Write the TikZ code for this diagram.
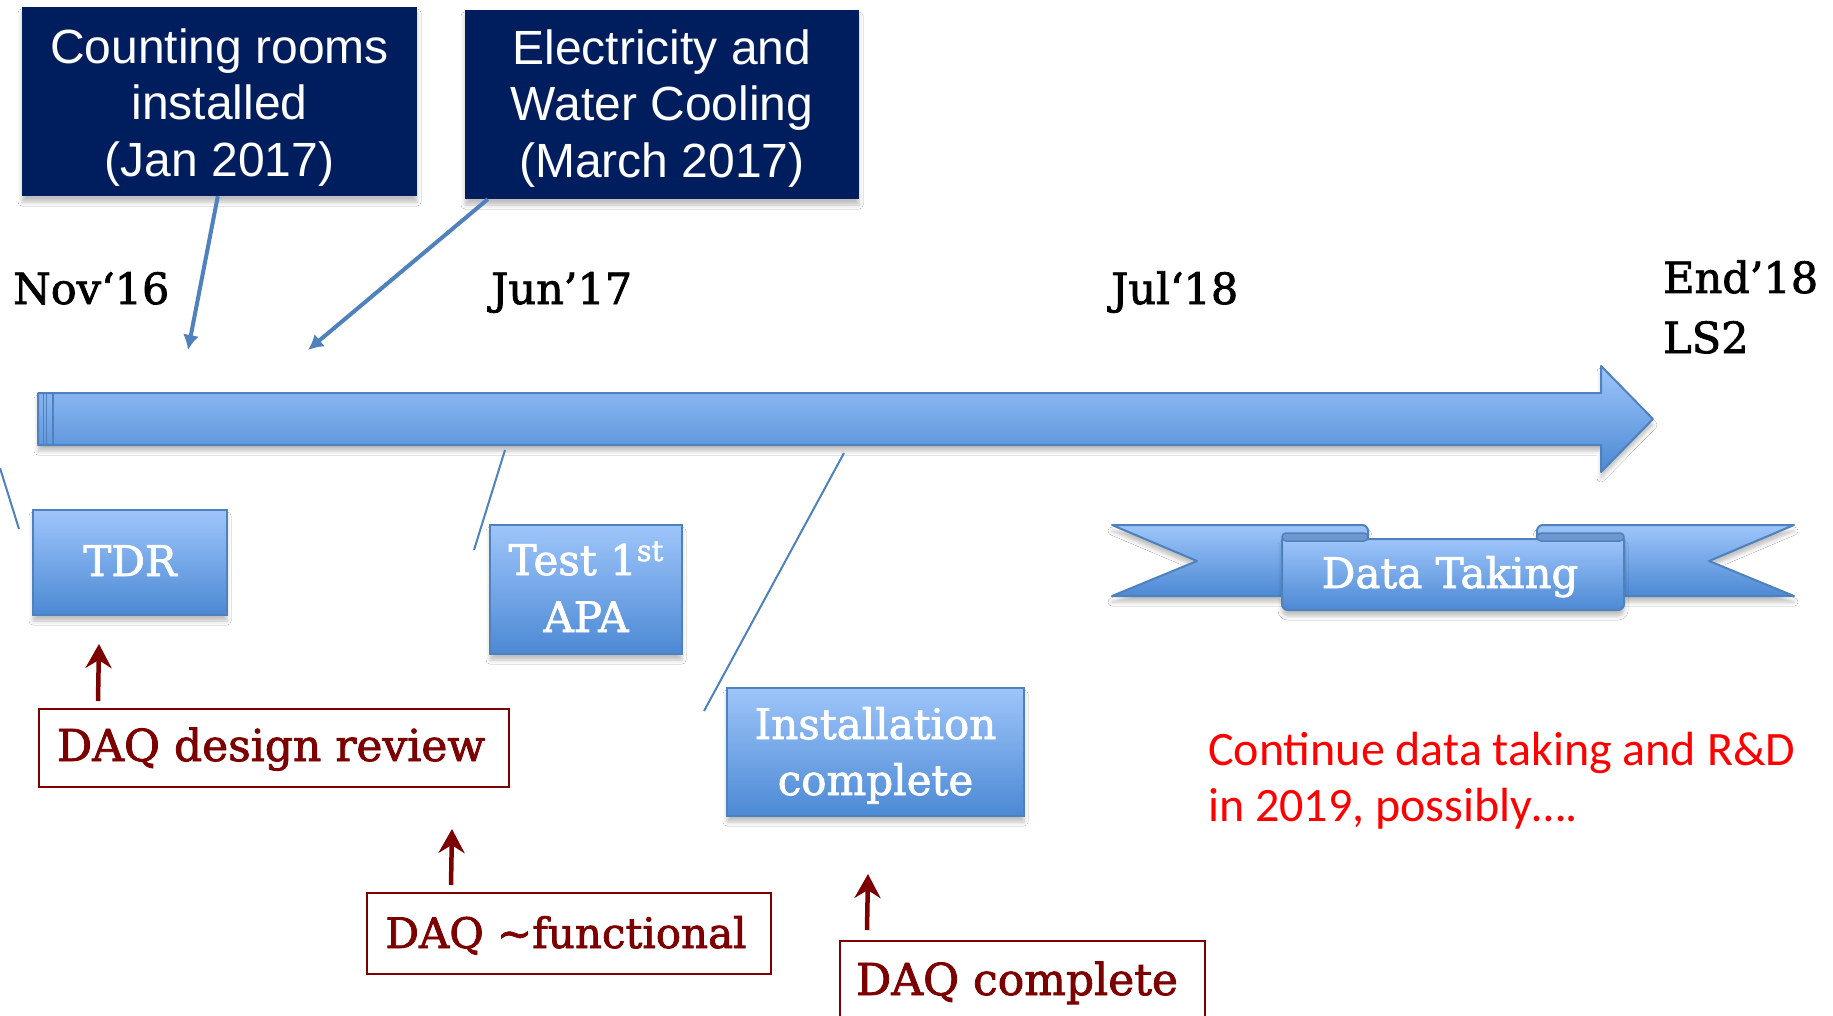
\documentclass[tikz,border=0pt]{standalone}
\usepackage{fontspec}
\setmainfont{DejaVu Serif}[FakeBold=1.8]
\newfontfamily\arialf{Liberation Sans}
\newfontfamily\calibf{Carlito}
\usetikzlibrary{arrows.meta,calc,shadows.blur}

\definecolor{navy}{RGB}{0,30,94}
\definecolor{bborder}{RGB}{79,129,189}
\definecolor{btop}{RGB}{158,197,250}
\definecolor{bbot}{RGB}{76,137,212}
\definecolor{dred}{RGB}{125,0,0}
\definecolor{bfold}{RGB}{112,150,208}
\definecolor{rtext}{RGB}{255,0,0}

\tikzset{
  shad/.style={blur shadow={shadow xshift=0pt,shadow yshift=-6pt,shadow blur radius=4pt,shadow opacity=25}},
  navybox/.style={fill=navy, draw=none, inner sep=0pt, shad},
  bluebox/.style={draw=bborder, line width=2pt, top color=btop, bottom color=bbot, inner sep=0pt, shad},
  redbox/.style={draw=dred, line width=2pt, fill=white, inner sep=0pt},
  banner/.style={draw=bborder, line width=2pt, top color=btop, bottom color=bbot, line join=round, shad},
  foldcap/.style={draw=bborder, line width=1.5pt, fill=bfold, rounded corners=4pt},
  navytxt/.style={font=\arialf\fontsize{48}{48}\selectfont, text=white, anchor=base, inner sep=0pt},
  whitetxt/.style={font=\fontsize{42}{42}\selectfont, text=white, anchor=base, inner sep=0pt},
  redtxt/.style={font=\fontsize{44}{44}\selectfont, text=dred, anchor=base, inner sep=0pt},
  datetxt/.style={font=\fontsize{43}{43}\selectfont, text=black, anchor=base west, inner sep=0pt},
  notetxt/.style={font=\calibf\fontsize{48}{48}\selectfont, text=rtext, anchor=base west, inner sep=0pt},
  bluearrow/.style={draw=bborder, line width=4pt, -{Latex[length=15pt,width=16pt]}},
  thinline/.style={draw=bborder, line width=2pt},
  redarrow/.style={draw=dred, line width=4.5pt, -{Stealth[length=24pt,width=26pt,inset=8pt]}},
}

\begin{document}
\begin{tikzpicture}[x=1pt,y=-1pt]
\clip (0,0) rectangle (1833,1016);
\fill[white] (0,0) rectangle (1833,1016);

% top navy boxes
\node[navybox, minimum width=395pt, minimum height=189pt] (cr) at (219.5,101.5) {};
\node[navytxt] (cr1) at (219.5,64) {Counting rooms};
\node[navytxt] (cr2) at (219.5,120) {installed};
\node[navytxt] (cr3) at (219.5,177) {(Jan 2017)};

\node[navybox, minimum width=394pt, minimum height=189pt] (el) at (662,104.5) {};
\node[navytxt] (el1) at (662,65) {Electricity and};
\node[navytxt] (el2) at (662,121) {Water Cooling};
\node[navytxt] (el3) at (662,178) {(March 2017)};

% arrows from navy boxes
\coordinate (crtip) at (188,350);
\coordinate (eltip) at (308,350);
\draw[bluearrow] ($(cr.south west)+(196,0)$) -- (crtip);
\draw[bluearrow] ($(el.south west)+(23,0)$) -- (eltip);

% date labels
\node[datetxt] (nov) at (13,304) {Nov‘16};
\node[datetxt] (jun) at (491,304) {Jun’17};
\node[datetxt] (jul) at (1111,304) {Jul‘18};
\node[datetxt] (end) at (1663,293) {End’18};
\node[datetxt] (ls2) at (1663,353) {LS2};

% timeline arrow
\draw[banner] (38,393) -- (1601,393) -- (1601,366) -- (1653,419) -- (1601,472) -- (1601,445) -- (38,445) -- cycle;
\draw[draw=bborder, line width=1.5pt] (43.5,393) -- (43.5,445);
\draw[draw=bborder, line width=1.5pt] (46.5,393) -- (46.5,445);
\draw[draw=bborder, line width=1.5pt] (53,393) -- (53,445);

% thin connector lines
\coordinate (l1a) at (0,468);
\coordinate (l1b) at (19,529);
\coordinate (l2a) at (505,450);
\coordinate (l2b) at (474,550);
\coordinate (l3a) at (844,453);
\coordinate (l3b) at (704,711);
\draw[thinline] (l1a) -- (l1b);
\draw[thinline] (l2a) -- (l2b);
\draw[thinline] (l3a) -- (l3b);

% blue milestone boxes
\node[bluebox, minimum width=194pt, minimum height=105pt] (tdr) at (130,562.5) {};
\node[whitetxt] (tdrt) at (130,576) {TDR};

\node[bluebox, minimum width=192pt, minimum height=129pt] (apa) at (586,589.5) {};
\node[whitetxt] (apa1) at (586,575) {Test 1\raisebox{14pt}{\fontsize{29}{29}\selectfont st}};
\node[whitetxt] (apa2) at (586,632) {APA};

\node[bluebox, minimum width=297pt, minimum height=128pt] (inst) at (875.5,752) {};
\node[whitetxt] (inst1) at (875.5,739) {Installation};
\node[whitetxt] (inst2) at (875.5,795) {complete};

% Data Taking banner
\draw[banner] (1112,525) -- (1362,525) to[out=0,in=90] (1368,531) -- (1368,545) -- (1282,545) -- (1282,596) -- (1112,596) -- (1197,561) -- cycle;
\draw[banner] (1794,525) -- (1543,525) to[out=180,in=90] (1537,531) -- (1537,545) -- (1624,545) -- (1624,596) -- (1794,596) -- (1709,561) -- cycle;
\draw[banner] (1282,539) -- (1282,604) to[out=-90,in=180] (1288,610) -- (1618,610) to[out=0,in=-90] (1624,604) -- (1624,539) -- cycle;
\draw[foldcap] (1282,533) rectangle (1368,541);
\draw[foldcap] (1537,533) rectangle (1624,541);
\node[whitetxt] (dt) at (1450,588) {Data Taking};

% DAQ milestones
\node[redbox, minimum width=470pt, minimum height=78pt] (ddr) at (274,748) {};
\node[redtxt] (ddrt) at (271,761) {DAQ design review};
\coordinate (ddrtip) at (99,644);
\draw[redarrow] ($(ddr.north west)+(60,-7)$) -- (ddrtip);

\node[redbox, minimum width=404pt, minimum height=81pt] (fun) at (569,933.5) {};
\node[redtxt, font=\fontsize{42}{42}\selectfont] (funt) at (566,948) {DAQ \textasciitilde functional};
\coordinate (funtip) at (452,829);
\draw[redarrow] ($(fun.north west)+(85,-7)$) -- (funtip);

\node[redbox, minimum width=365pt, minimum height=99pt] (cmp) at (1022.5,990.5) {};
\node[redtxt] (cmpt) at (1017,995) {DAQ complete};
\coordinate (cmptip) at (868,874);
\draw[redarrow] ($(cmp.north west)+(28,-10)$) -- (cmptip);

% note
\node[notetxt] (note1) at (1208,765) {Continue data taking and R\&D};
\node[notetxt] (note2) at (1208,821) {in 2019, possibly….};
\end{tikzpicture}
\end{document}
